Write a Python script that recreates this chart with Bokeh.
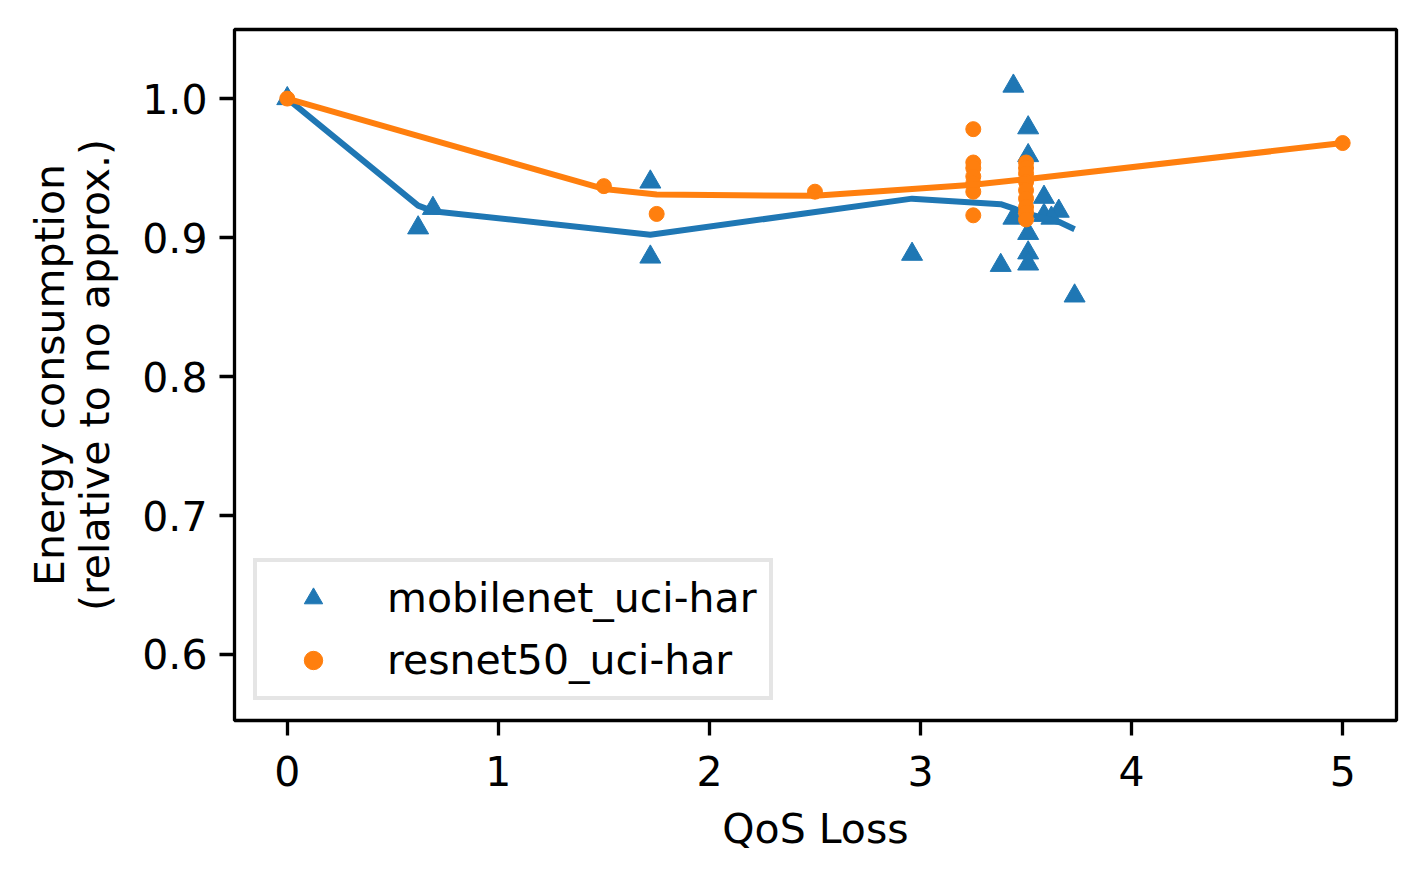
from bokeh.plotting import figure
from bokeh.models import Legend, LegendItem, Range1d, FixedTicker, PrintfTickFormatter
from bokeh.embed import file_html
from bokeh.resources import INLINE

# mobilenet_uci-har points
mob_x = [0.0, 0.62, 0.69, 1.72, 1.72, 2.96, 3.38, 3.44, 3.51, 3.51, 3.44, 3.51, 3.51, 3.51,
         3.585, 3.585, 3.655, 3.62, 3.73]
mob_y = [1.0, 0.907, 0.921, 0.940, 0.886, 0.888, 0.880, 1.009, 0.979, 0.959, 0.914, 0.903,
         0.889, 0.881, 0.929, 0.916, 0.919, 0.914, 0.858]
# mobilenet trend line
mob_line_x = [0.0, 0.62, 0.69, 1.72, 2.96, 3.38, 3.44, 3.51, 3.66, 3.73]
mob_line_y = [1.0, 0.923, 0.919, 0.902, 0.928, 0.924, 0.921, 0.917, 0.911, 0.906]

# resnet50_uci-har points
res_x = [0.0, 1.5, 1.75, 2.5,
         3.25, 3.25, 3.25, 3.25, 3.25, 3.25, 3.25,
         3.5, 3.5, 3.5, 3.5, 3.5, 3.5, 3.5, 3.5, 3.5,
         5.0]
res_y = [1.0, 0.937, 0.917, 0.933,
         0.978, 0.954, 0.950, 0.944, 0.939, 0.933, 0.916,
         0.954, 0.950, 0.946, 0.940, 0.934, 0.928, 0.922, 0.918, 0.913,
         0.968]
# resnet50 trend line
res_line_x = [0.0, 1.5, 1.75, 2.5, 3.25, 3.5, 5.0]
res_line_y = [1.0, 0.935, 0.931, 0.930, 0.938, 0.942, 0.968]

x_ticks = [0, 1, 2, 3, 4, 5]
y_ticks = [0.6, 0.7, 0.8, 0.9, 1.0]

BLUE = "#1f77b4"
ORANGE = "#ff7f0e"
FONT = "DejaVu Sans"
FS = "41px"

p = figure(frame_width=1162, frame_height=691, output_backend="svg", toolbar_location=None,
           x_range=Range1d(-0.25, 5.255), y_range=Range1d(0.5525, 1.0497),
           min_border_left=234, min_border_top=29, min_border_right=21, min_border_bottom=154)
p.background_fill_color = "white"
p.border_fill_color = "white"
p.grid.visible = False
p.outline_line_color = "black"
p.outline_line_width = 3.3

for ax in (p.xaxis[0], p.yaxis[0]):
    ax.axis_line_color = None
    ax.major_tick_line_width = 3.3
    ax.major_tick_line_color = "black"
    ax.major_tick_out = 15
    ax.major_tick_in = 0
    ax.minor_tick_line_color = None
    ax.major_label_text_font = FONT
    ax.major_label_text_font_size = FS
    ax.major_label_text_color = "black"
    ax.axis_label_text_font = FONT
    ax.axis_label_text_font_size = FS
    ax.axis_label_text_font_style = "normal"
    ax.axis_label_text_color = "black"

p.xaxis.ticker = FixedTicker(ticks=x_ticks)
p.yaxis.ticker = FixedTicker(ticks=y_ticks)
p.yaxis.formatter = PrintfTickFormatter(format="%.1f")
p.xaxis.major_label_standoff = 20
p.yaxis.major_label_standoff = 12
p.xaxis.axis_label = "QoS Loss"
p.xaxis.axis_label_standoff = 16
p.yaxis.axis_label = "Energy consumption\n(relative to no approx.)"
p.yaxis.axis_label_standoff = 20
p.yaxis.axis_label_text_line_height = 0.95

r_mob = p.scatter(mob_x, mob_y, marker="triangle", size=21, fill_color=BLUE, line_color=BLUE, line_width=1)
p.line(mob_line_x, mob_line_y, line_color=BLUE, line_width=6)
r_res = p.scatter(res_x, res_y, marker="circle", size=15, fill_color=ORANGE, line_color=ORANGE, line_width=1)
p.line(res_line_x, res_line_y, line_color=ORANGE, line_width=6)

legend = Legend(items=[LegendItem(label="mobilenet_uci-har", renderers=[r_mob]),
                       LegendItem(label="resnet50_uci-har", renderers=[r_res])],
                location=(19, 20))
legend.label_text_font = FONT
legend.label_text_font_size = FS
legend.label_text_color = "black"
legend.label_height = 46
legend.glyph_height = 46
legend.glyph_width = 88
legend.spacing = 14
legend.padding = 12
legend.margin = 0
legend.label_standoff = 30
legend.border_line_color = "#cccccc"
legend.border_line_width = 4
legend.background_fill_color = "white"
legend.background_fill_alpha = 0.8
p.add_layout(legend, "center")

open("out.html", "w").write(file_html(p, INLINE))
